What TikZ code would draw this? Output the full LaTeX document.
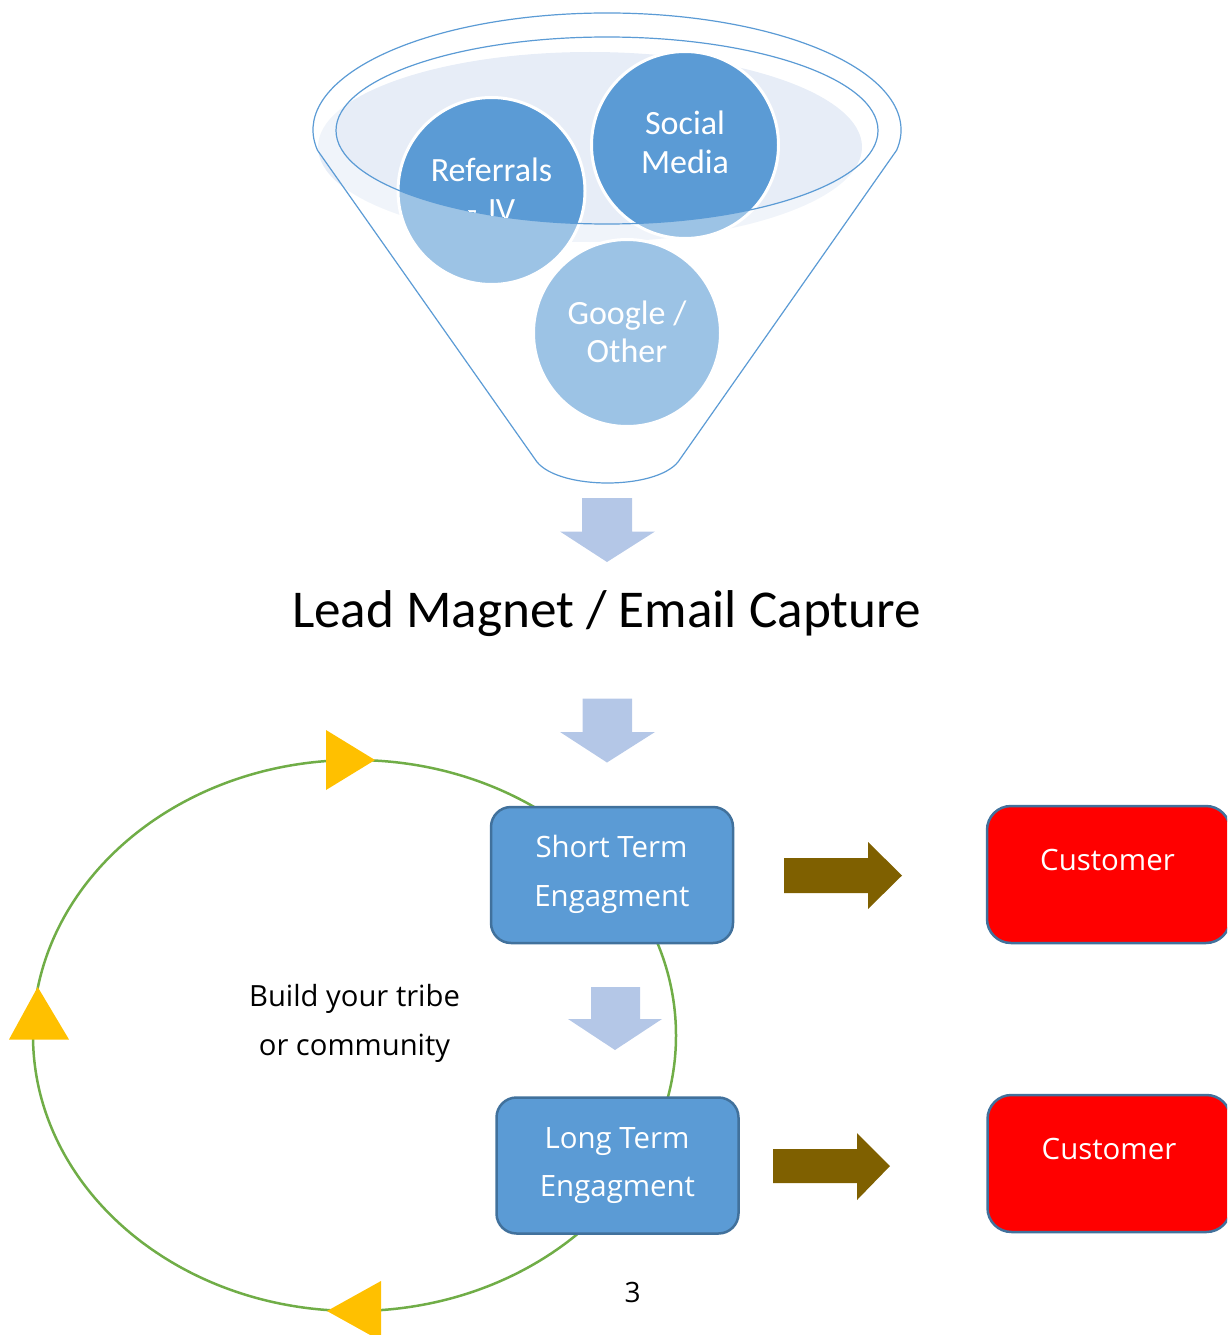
\documentclass[tikz,border=0pt]{standalone}
\usepackage{fontspec}
\setmainfont{Open Sans}
\newfontfamily\calib{Carlito}
\definecolor{acc}{HTML}{5B9BD5}
\definecolor{accdark}{HTML}{41719C}
\definecolor{arrowblue}{HTML}{B4C7E7}
\definecolor{funfill}{HTML}{E7EDF7}
\definecolor{grn}{HTML}{70AD47}
\definecolor{gold}{HTML}{FFC000}
\definecolor{brn}{HTML}{7F6000}
\begin{document}
\begin{tikzpicture}[x=1pt,y=-1pt,
  fcirc/.style={circle,minimum size=187pt,inner sep=0pt,fill=acc,draw=white,line width=3pt},
  ftxt/.style={anchor=base,text=white,font=\calib\fontsize{34}{38}\selectfont,inner sep=0pt},
  ebox/.style={rectangle,rounded corners=20pt,minimum width=242pt,minimum height=136pt,fill=acc,draw=accdark,line width=2.5pt},
  cbox/.style={rectangle,rounded corners=24pt,minimum width=243pt,minimum height=137pt,fill=red,draw=accdark,line width=2.5pt},
  btxt/.style={anchor=base,text=white,font=\fontsize{29.4}{35}\selectfont,inner sep=0pt},
  ktxt/.style={anchor=base,text=black,font=\fontsize{29.2}{35}\selectfont,inner sep=0pt},
  downarrow/.style={fill=arrowblue},
  rightarrow/.style={fill=brn},
  tri/.style={fill=gold},
  funline/.style={draw=acc,line width=1.2pt}]
\useasboundingbox (0,0) rectangle (1227,1335);
\clip (0,0) rectangle (1227,1335);

% ---------- funnel ----------
\fill[funfill] (590,147) ellipse [x radius=272pt, y radius=95pt];
\node[fcirc] (ref) at (491.5,191) {};
\node[fcirc] (soc) at (685,145) {};
\node[fcirc] (goo) at (627,333) {};
\fill[white,fill opacity=0.4,even odd rule]
  (317.5,150.3) arc[start angle=190,end angle=-10,x radius=294pt,y radius=117pt]
  -- (678,462) .. controls (655,490) and (560,490) .. (537,462) -- cycle
  (607,130.5) ellipse [x radius=271pt, y radius=93.5pt];
\draw[funline]
  (317.5,150.3) arc[start angle=190,end angle=-10,x radius=294pt,y radius=117pt]
  -- (678,462) .. controls (655,490) and (560,490) .. (537,462) -- cycle;
\draw[funline] (607,130.5) ellipse [x radius=271pt, y radius=93.5pt];
\node[ftxt] (reft) at (491.5,181.7) {Referrals};
\begin{scope}
  \clip (607,130.5) ellipse [x radius=271pt, y radius=93.5pt];
  \node[ftxt] (jvt) at (491,221) {- JV};
\end{scope}
\node[ftxt] (soct1) at (685,135) {Social};
\node[ftxt] (soct2) at (685,173) {Media};
\node[ftxt] (goot1) at (627,324) {Google /};
\node[ftxt] (goot2) at (627,362) {Other};

% ---------- arrows down ----------
\fill[downarrow] (582,498) -- (632,498) -- (632,531.5) -- (655,531.5) -- (607,562) -- (560,531.5) -- (582,531.5) -- cycle;
\node[anchor=base,inner sep=0pt,font=\calib\fontsize{53.2}{60}\selectfont] (lead) at (606.5,627) {Lead Magnet / Email Capture};
\fill[downarrow] (582.5,698.5) -- (632,698.5) -- (632,732) -- (655,732) -- (607,762.5) -- (560,732) -- (582.5,732) -- cycle;

% ---------- cycle ----------
\draw[grn,line width=2.5pt] (354.5,1035.5) ellipse [x radius=321.5pt, y radius=275.5pt];
\fill[tri] (326,730) -- (375,760) -- (326,790) -- cycle;
\fill[tri] (37.7,987) -- (69,1039.5) -- (9,1039.5) -- cycle;
\fill[tri] (327,1311) -- (381,1281) -- (381,1341) -- cycle;
\node[ktxt] (b1) at (354.5,1006) {Build your tribe};
\node[ktxt] (b2) at (354.5,1055.5) {or community};

% ---------- boxes ----------
\node[ebox] (st) at (612,875) {};
\node[btxt] (st1) at (611.5,857.7) {Short Term};
\node[btxt] (st2) at (612,906) {Engagment};
\fill[downarrow] (591,987) -- (640,987) -- (640,1019) -- (662,1019) -- (615,1050) -- (568,1019) -- (591,1019) -- cycle;
\node[ebox] (lt) at (617.5,1165.5) {};
\node[btxt] (lt1) at (617,1148) {Long Term};
\node[btxt] (lt2) at (617.5,1196.7) {Engagment};

\fill[rightarrow] (784,858) -- (868,858) -- (868,842) -- (902,875.5) -- (868,909) -- (868,893) -- (784,893) -- cycle;
\fill[rightarrow] (773,1149) -- (857,1149) -- (857,1133) -- (890,1166) -- (857,1200) -- (857,1183) -- (773,1183) -- cycle;

\node[cbox] (c1) at (1108.5,874.5) {};
\node[btxt] (c1t) at (1107.5,870) {Customer};
\node[cbox] (c2) at (1109,1163.5) {};
\node[btxt] (c2t) at (1109,1159) {Customer};

\node[ktxt,font=\fontsize{28}{34}\selectfont] (pg) at (632.5,1302) {3};
\end{tikzpicture}
\end{document}
